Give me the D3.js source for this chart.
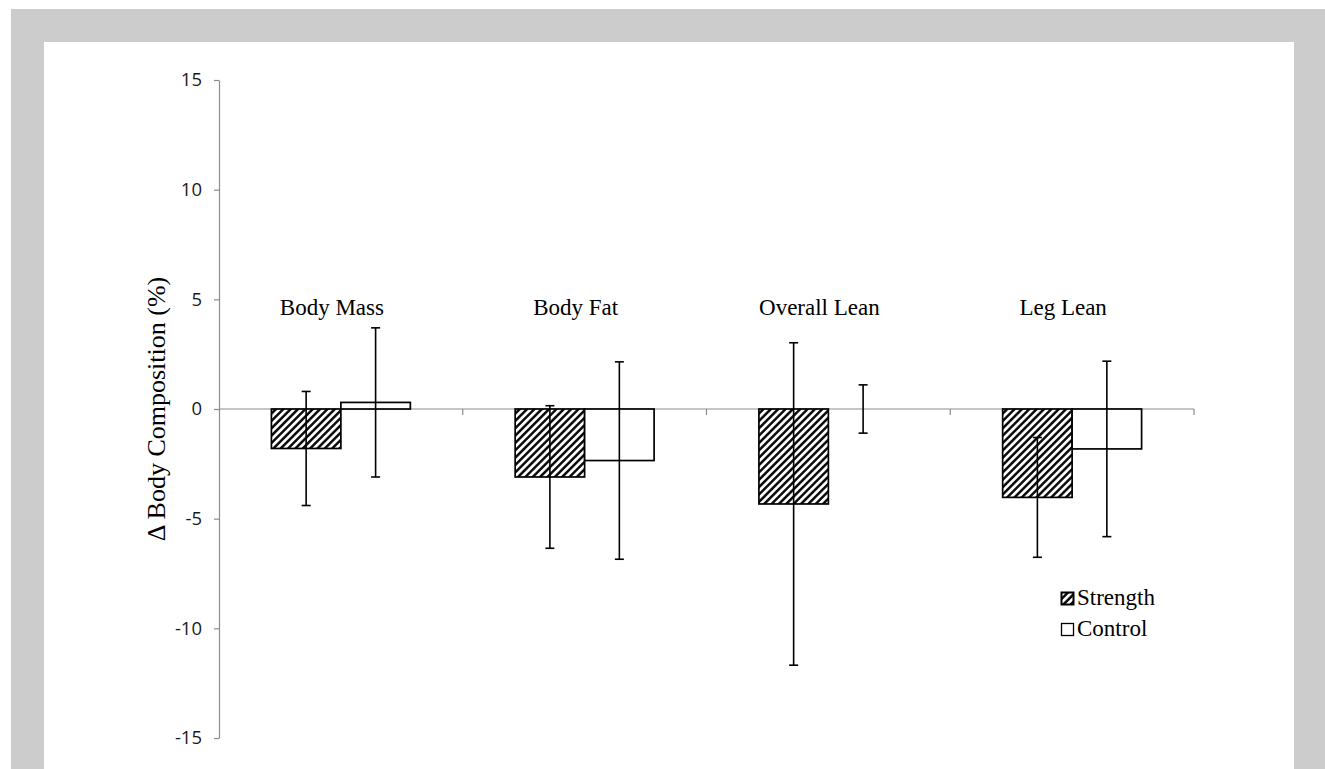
<!DOCTYPE html>
<html>
<head>
<meta charset="utf-8">
<script src="https://cdn.jsdelivr.net/npm/d3@7"></script>
<style>
  html, body { margin: 0; padding: 0; background: #ffffff; }
  svg { display: block; }
</style>
</head>
<body>
<svg id="chart" width="1325" height="769"></svg>
<script>
// Percent change in body composition, mean ± SD per group
const categories = ["Body Mass", "Body Fat", "Overall Lean", "Leg Lean"];
const seriesNames = ["Strength", "Control"];
const strengthMean = [-1.8, -3.1, -4.33, -4.03];
const strengthSD = [2.6, 3.25, 7.35, 2.73];
const controlMean = [0.3, -2.35, 0, -1.82];
const controlSD = [3.4, 4.5, 1.1, 4.0];
const yTicks = [-15, -10, -5, 0, 5, 10, 15];

const serif = "'Liberation Serif', 'Times New Roman', serif";
const sans = "'Open Sans', 'Noto Sans', sans-serif";

const svg = d3.select("#chart");

// grey frame with white panel
svg.append("rect").attr("x", 11).attr("y", 9).attr("width", 1314).attr("height", 760).attr("fill", "#cccccc");
svg.append("rect").attr("x", 44).attr("y", 42).attr("width", 1250).attr("height", 727).attr("fill", "#ffffff");

// diagonal hatch for the Strength group
const hs = 5.2;
const defs = svg.append("defs");
const pat = defs.append("pattern")
  .attr("id", "hatch")
  .attr("patternUnits", "userSpaceOnUse")
  .attr("width", hs).attr("height", hs)
  .attr("patternTransform", "rotate(45)");
pat.append("rect").attr("width", hs).attr("height", hs).attr("fill", "#ffffff");
pat.append("line").attr("x1", 1.3).attr("y1", 0).attr("x2", 1.3).attr("y2", hs)
  .attr("stroke", "#000").attr("stroke-width", 2.4);

const y = d3.scaleLinear().domain([-15, 15]).range([738, 80]);
const x0 = d3.scaleBand().domain(categories).range([219, 1194])
  .paddingInner(0.43).paddingOuter(0.215);
const x1 = d3.scaleBand().domain(seriesNames).range([0, x0.bandwidth()]);

const rows = categories.map((c, i) => ({
  cat: c,
  bars: [
    { s: "Strength", v: strengthMean[i], sd: strengthSD[i] },
    { s: "Control", v: controlMean[i], sd: controlSD[i] }
  ]
}));

// y axis
const yAxis = svg.append("g")
  .attr("transform", `translate(219,0)`)
  .call(d3.axisLeft(y).tickValues(yTicks).tickFormat(d => String(d))
    .tickSize(5).tickPadding(12).tickSizeOuter(0));
yAxis.select(".domain").attr("stroke", "#8c8c8c").attr("stroke-width", 1.2);
yAxis.selectAll(".tick line").attr("stroke", "#8c8c8c").attr("stroke-width", 1.2);
yAxis.selectAll(".tick text")
  .attr("font-family", sans).attr("font-size", 18.5).attr("fill", "#1a1a1a");

// category axis along zero with ticks between groups
const zeroY = y(0);
const xAxis = svg.append("g");
xAxis.append("line")
  .attr("x1", x0.range()[0]).attr("x2", x0.range()[1])
  .attr("y1", zeroY).attr("y2", zeroY)
  .attr("stroke", "#8c8c8c").attr("stroke-width", 1.2);
xAxis.selectAll("line.sep").data(categories).join("line")
  .attr("class", "sep")
  .attr("x1", c => x0(c) + x0.bandwidth() + (x0.step() - x0.bandwidth()) / 2)
  .attr("x2", c => x0(c) + x0.bandwidth() + (x0.step() - x0.bandwidth()) / 2)
  .attr("y1", zeroY).attr("y2", zeroY + 6)
  .attr("stroke", "#8c8c8c").attr("stroke-width", 1.2);

// bars
const groups = svg.append("g").selectAll("g").data(rows).join("g")
  .attr("transform", d => `translate(${x0(d.cat)},0)`);

groups.selectAll("rect").data(d => d.bars).join("rect")
  .attr("x", d => x1(d.s))
  .attr("width", x1.bandwidth())
  .attr("y", d => y(Math.max(0, d.v)))
  .attr("height", d => Math.abs(y(d.v) - y(0)))
  .attr("fill", d => d.s === "Strength" ? "url(#hatch)" : "#ffffff")
  .attr("stroke", d => d.v === 0 ? "none" : "#000")
  .attr("stroke-width", 1.7);

// error bars
const capW = 9;
const eb = groups.selectAll("g.err").data(d => d.bars).join("g").attr("class", "err")
  .attr("transform", d => `translate(${x1(d.s) + x1.bandwidth() / 2},0)`);
eb.append("line")
  .attr("x1", 0).attr("x2", 0)
  .attr("y1", d => y(d.v + d.sd)).attr("y2", d => y(d.v - d.sd))
  .attr("stroke", "#000").attr("stroke-width", 1.6);
eb.append("line")
  .attr("x1", -capW / 2).attr("x2", capW / 2)
  .attr("y1", d => y(d.v + d.sd)).attr("y2", d => y(d.v + d.sd))
  .attr("stroke", "#000").attr("stroke-width", 1.6);
eb.append("line")
  .attr("x1", -capW / 2).attr("x2", capW / 2)
  .attr("y1", d => y(d.v - d.sd)).attr("y2", d => y(d.v - d.sd))
  .attr("stroke", "#000").attr("stroke-width", 1.6);

// category labels above the groups
svg.append("g").selectAll("text").data(categories).join("text")
  .attr("x", c => x0(c) + x0.bandwidth() / 2 - 9)
  .attr("y", 315)
  .attr("text-anchor", "middle")
  .attr("font-family", serif).attr("font-size", 23).attr("fill", "#000")
  .text(c => c);

// y axis title
svg.append("text")
  .attr("transform", `translate(165,${(y(15) + y(-15)) / 2}) rotate(-90)`)
  .attr("text-anchor", "middle")
  .attr("font-family", serif).attr("font-size", 26).attr("fill", "#000")
  .text("Δ Body Composition (%)");

// legend
const legend = svg.append("g").attr("transform", "translate(1061,0)");
const li = legend.selectAll("g").data(seriesNames).join("g")
  .attr("transform", (d, i) => `translate(0,${605 + i * 31})`);
li.append("rect")
  .attr("x", 0.5).attr("y", -12.5).attr("width", 12).attr("height", 12)
  .attr("fill", d => d === "Strength" ? "url(#hatch)" : "#ffffff")
  .attr("stroke", "#000").attr("stroke-width", d => d === "Strength" ? 2 : 1.3);
li.append("text")
  .attr("x", 16).attr("y", 0)
  .attr("font-family", serif).attr("font-size", 23).attr("fill", "#000")
  .text(d => d);
</script>
</body>
</html>
